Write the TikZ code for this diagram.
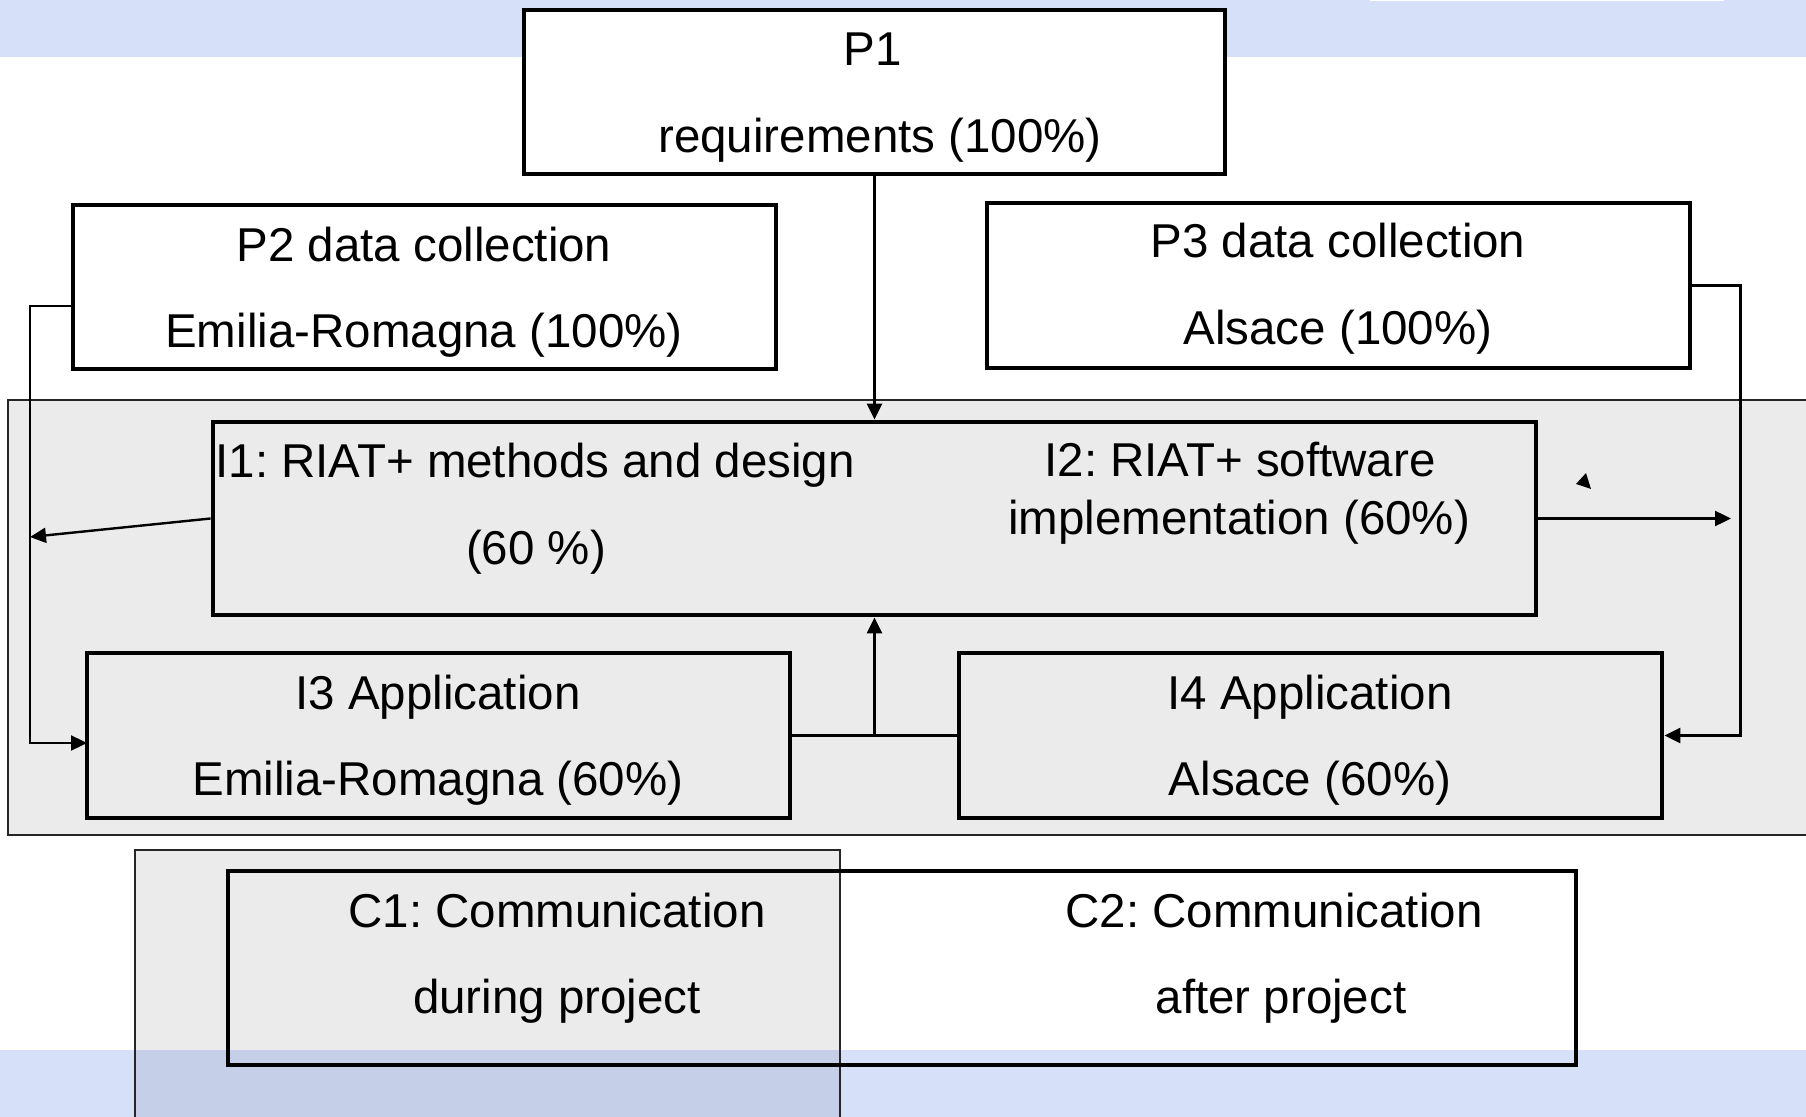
\documentclass[tikz,border=0pt]{standalone}
\usepackage{fontspec}
\setmainfont{Liberation Sans}
\usetikzlibrary{arrows.meta,fit}
\definecolor{bandblue}{RGB}{214,224,248}
\definecolor{panelgrey}{RGB}{235,235,235}
\definecolor{overlapblue}{RGB}{197,207,232}
\frenchspacing
\begin{document}
\begin{tikzpicture}[x=0.5pt,y=-0.5pt,
  box/.style={draw=black,line width=2.4pt,inner sep=0pt},
  lbl/.style={inner sep=0pt,anchor=base,font=\fontsize{23.75}{28}\selectfont},
  conn/.style={line width=1.2pt},
  tip/.style={-{Triangle[length=8pt,width=7.5pt]}},
  panel/.style={line width=1.3pt,draw=black!85}]
\useasboundingbox (0,0) rectangle (1806,1117);
% backgrounds
\fill[white] (0,0) rectangle (1806,1117);
\fill[bandblue] (0,0) rectangle (1806,57);
\fill[white] (1370,0) rectangle (1724,1.5);
% outer grey panel
\fill[panelgrey] (8,400) rectangle (1812,835);
\draw[panel] (1812,400) -- (8,400) -- (8,835) -- (1812,835);
% communication grey panel and bottom band
\fill[panelgrey] (135,850) rectangle (840,1120);
\fill[bandblue] (0,1050) rectangle (1806,1120);
\fill[overlapblue] (135,1050) rectangle (840,1120);
\draw[panel] (135,1122) -- (135,850) -- (840,850) -- (840,1122);
% boxes
\node[box,fill=white,fit={(524,10) (1225,174)}] (P1) {};
\node[box,fill=white,fit={(73,205) (776,369)}] (P2) {};
\node[box,fill=white,fit={(987,203) (1690,368)}] (P3) {};
\node[box,fit={(213,422) (1536,615)}] (I12) {};
\node[box,fit={(87,653) (790,818)}] (I3) {};
\node[box,fit={(959,653) (1662,818)}] (I4) {};
\node[box,fit={(228,871) (1576,1065)}] (C) {};
% texts
\node[lbl] (P1a) at (873,66) {P1};
\node[lbl] (P1b) at (880,153) {requirements (100\%)};
\node[lbl] (P2a) at (424,262) {P2 data collection};
\node[lbl] (P2b) at (424,348) {Emilia-Romagna (100\%)};
\node[lbl] (P3a) at (1338,258) {P3 data collection};
\node[lbl] (P3b) at (1338,345) {Alsace (100\%)};
\node[lbl,anchor=base west] (I1a) at (215,478) {I1: RIAT+ methods and design};
\node[lbl] (I1b) at (536,565) {(60 \%)};
\node[lbl] (I2a) at (1240,477) {I2: RIAT+ software};
\node[lbl] (I2b) at (1239,535) {implementation (60\%)};
\node[lbl] (I3a) at (438,710) {I3 Application};
\node[lbl] (I3b) at (438,795) {Emilia-Romagna (60\%)};
\node[lbl] (I4a) at (1310,710) {I4 Application};
\node[lbl] (I4b) at (1310,795) {Alsace (60\%)};
\node[lbl] (C1a) at (557,927) {C1: Communication};
\node[lbl] (C1b) at (557,1013) {during project};
\node[lbl] (C2a) at (1274,927) {C2: Communication};
\node[lbl] (C2b) at (1281,1013) {after project};
% connectors
\coordinate (p2out) at (73,306);
\coordinate (leftbus) at (30,743);
\coordinate (i3in) at (87,743);
\coordinate (leftend) at (30,537);
\coordinate (rightend) at (1731,518.5);
\draw[conn,tip] (P1.south) -- (P1.south |- I12.north);
\draw[conn,tip] (p2out) -| (leftbus) -- (i3in);
\draw[conn,tip] (P3.east) -- ++(48,0) |- (I4.east);
\draw[conn,tip] (I12.west) -- (leftend);
\draw[conn,tip] (I12.east) -- (rightend);
\draw[conn] (I3.east) -- (I4.west);
\draw[conn,tip] (I3.east -| P1.south) -- (P1.south |- I12.south);
% stray arrowhead
\fill[black] (1576,484) -- (1586,473) -- (1591,489) -- cycle;
\end{tikzpicture}
\end{document}
